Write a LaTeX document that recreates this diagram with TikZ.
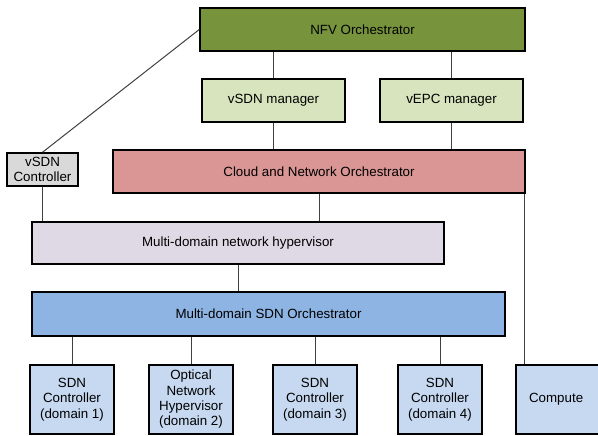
\documentclass[tikz,border=0pt]{standalone}
\usepackage{xcolor}
\usepackage{fontspec}
\setmainfont{Liberation Sans}
\usepackage{tikz}
\usetikzlibrary{calc,positioning}

\definecolor{nfvgreen}{HTML}{77933C}
\definecolor{mgrgreen}{HTML}{D7E4BD}
\definecolor{cloudred}{HTML}{D99694}
\definecolor{ctrlgray}{HTML}{D9D9D9}
\definecolor{hyplilac}{HTML}{DFD9E6}
\definecolor{orchblue}{HTML}{8EB4E3}
\definecolor{ctrlblue}{HTML}{C6D9F1}

\begin{document}
\begin{tikzpicture}[x=0.75pt, y=-0.75pt]
        \tikzstyle{link} = [line width=0.75pt, draw=black!75],
        \tikzstyle{block} = [shape=rectangle, align=center, draw, line width=1.1pt, inner sep=0pt, font=\fontsize{10}{11.5}\selectfont],
        \tikzset{boxsize/.style 2 args={minimum width=#1*0.75pt, minimum height=#2*0.75pt}}
        \useasboundingbox (0,0) rectangle (598,435);
        \clip (0,0) rectangle (598,435);

        % orchestration layer
        \node [block, boxsize={325}{43}, fill=nfvgreen, name=nfvOrch] at (362.5,29.5) {NFV Orchestrator};
        \node [block, boxsize={143}{43}, fill=mgrgreen, name=vsdnMgr] at (273.5,100.5) {vSDN manager};
        \node [block, boxsize={143}{43}, fill=mgrgreen, name=vepcMgr] at (451.5,100.5) {vEPC manager};
        \node [block, boxsize={412}{43}, fill=cloudred, name=cloudOrch] at (319,171.5) {Cloud and Network Orchestrator};
        \node [block, boxsize={71}{33}, fill=ctrlgray, name=vsdnCtrl] at (42.5,169.5) {vSDN\\Controller};

        % network layer
        \node [block, boxsize={412}{42}, fill=hyplilac, name=hypervisor] at (238,243) {Multi-domain network hypervisor};
        \node [block, boxsize={473}{44}, fill=orchblue, name=sdnOrch] at (268.5,314) {Multi-domain SDN Orchestrator};

        % domains
        \node [block, boxsize={84}{69}, fill=ctrlblue, name=ctrl1] at (72,399.5) {SDN\\Controller\\(domain 1)};
        \node [block, boxsize={84}{69}, fill=ctrlblue, name=optHyp] at (191,399.5) {Optical\\Network\\Hypervisor\\(domain 2)};
        \node [block, boxsize={84}{69}, fill=ctrlblue, name=ctrl3] at (315,399.5) {SDN\\Controller\\(domain 3)};
        \node [block, boxsize={84}{69}, fill=ctrlblue, name=ctrl4] at (440,399.5) {SDN\\Controller\\(domain 4)};
        \node [block, boxsize={92}{69}, fill=ctrlblue, name=compute] at (562,399.5) {\hspace*{-8\pgflinewidth}Compute};

        % links
        \coordinate (cloudRight) at ($(cloudOrch.south east) + (-1,0)$);
        \draw [link] (vsdnMgr.north) -- (vsdnMgr.north |- nfvOrch.south);
        \draw [link] (vepcMgr.north) -- (vepcMgr.north |- nfvOrch.south);
        \draw [link] (vsdnMgr.south) -- (vsdnMgr.south |- cloudOrch.north);
        \draw [link] (vepcMgr.south) -- (vepcMgr.south |- cloudOrch.north);
        \draw [link] (nfvOrch.west) -- (vsdnCtrl.north);
        \draw [link] (vsdnCtrl.south) -- (vsdnCtrl.south |- hypervisor.north);
        \draw [link] (cloudOrch.south) -- (cloudOrch.south |- hypervisor.north);
        \draw [link] (cloudRight) -- (cloudRight |- compute.north);
        \draw [link] (hypervisor.south) -- (hypervisor.south |- sdnOrch.north);
        \draw [link] (ctrl1.north) -- (ctrl1.north |- sdnOrch.south);
        \draw [link] (optHyp.north) -- (optHyp.north |- sdnOrch.south);
        \draw [link] (ctrl3.north) -- (ctrl3.north |- sdnOrch.south);
        \draw [link] (ctrl4.north) -- (ctrl4.north |- sdnOrch.south);

\end{tikzpicture}
\end{document}
